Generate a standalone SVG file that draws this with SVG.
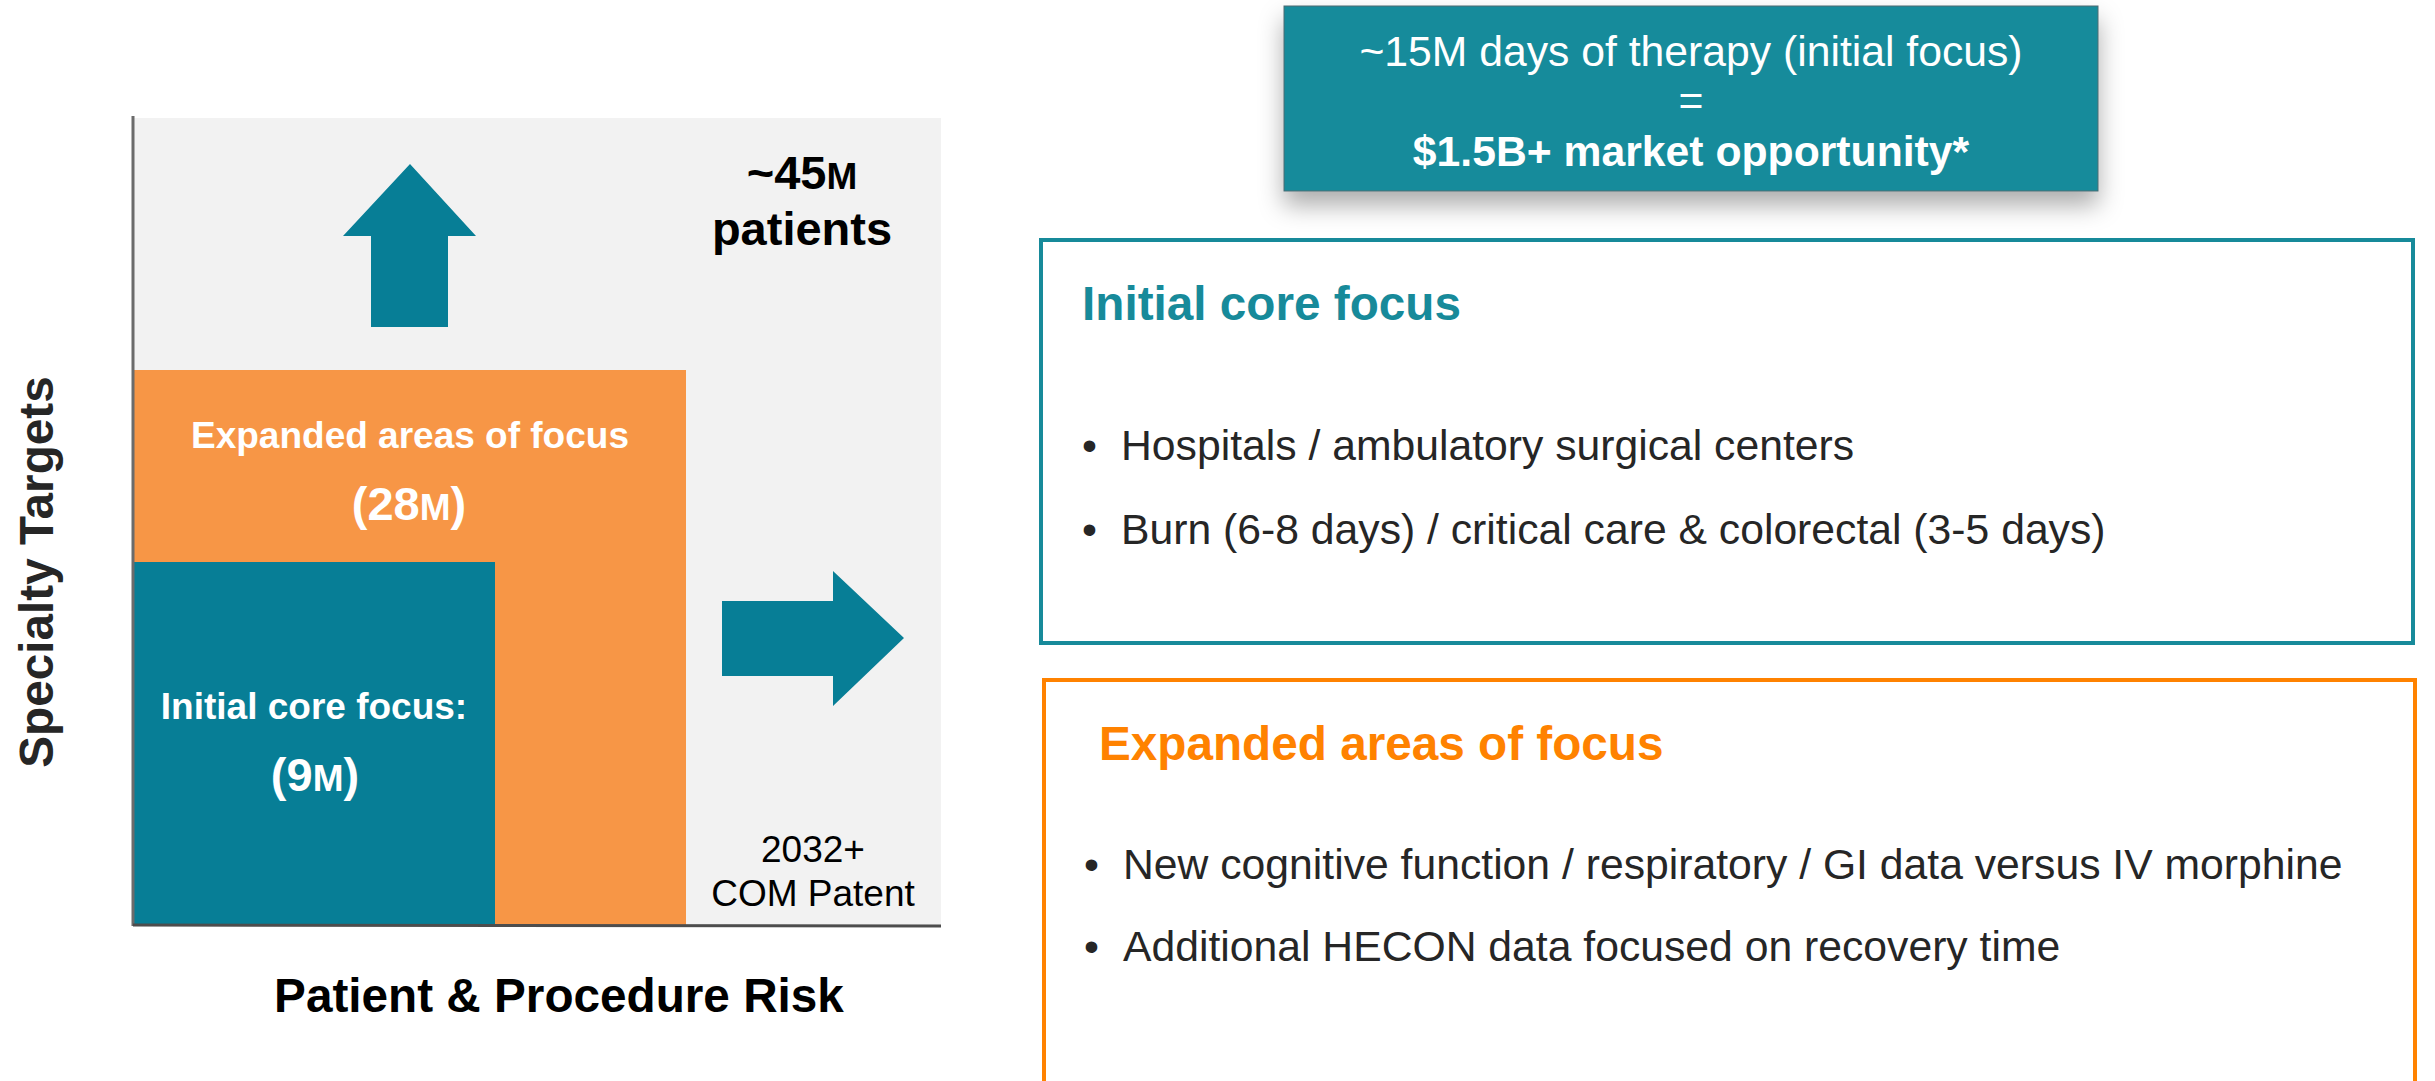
<svg xmlns="http://www.w3.org/2000/svg" width="2435" height="1081" viewBox="0 0 2435 1081">
  <style>
    text { font-family: "Liberation Sans", Arial, sans-serif; }
    .b { font-weight: bold; }
    .wlab { fill: #ffffff; font-weight: bold; font-size: 37px; text-anchor: middle; }
    .wnum { fill: #ffffff; font-weight: bold; font-size: 47px; text-anchor: middle; }
    .bul { fill: #262626; font-size: 42.7px; }
    .ttl { font-weight: bold; font-size: 47.7px; }
  </style>
  <defs>
    <filter id="shadow" x="-10%" y="-30%" width="120%" height="170%">
      <feDropShadow dx="0" dy="14" stdDeviation="12" flood-color="#000000" flood-opacity="0.32"/>
    </filter>
  </defs>
  <rect width="2435" height="1081" fill="#ffffff"/>

  <!-- Left chart -->
  <g id="chart-bg">
    <rect x="134" y="118" width="807" height="807" fill="#f2f2f2"/>
  </g>
  <g id="node-expanded">
    <rect x="134" y="370" width="552" height="555" fill="#f79646"/>
    <text class="wlab" x="410" y="448">Expanded areas of focus</text>
    <text class="wnum" x="409" y="520">(28<tspan font-size="37px">M</tspan>)</text>
  </g>
  <g id="node-initial">
    <rect x="134" y="562" width="361" height="363" fill="#077e96"/>
    <text class="wlab" x="314" y="719">Initial core focus:</text>
    <text class="wnum" x="315" y="791">(9<tspan font-size="37px">M</tspan>)</text>
  </g>
  <g id="node-total">
    <text class="b" x="802" y="189" font-size="47px" text-anchor="middle" fill="#000000">~45<tspan font-size="37px">M</tspan></text>
    <text class="b" x="802" y="245" font-size="47px" text-anchor="middle" fill="#000000">patients</text>
  </g>
  <g id="node-patent">
    <text x="813" y="862" font-size="37px" text-anchor="middle" fill="#000000">2032+</text>
    <text x="813" y="906" font-size="37px" text-anchor="middle" fill="#000000">COM Patent</text>
  </g>
  <g id="axes">
    <line x1="133" y1="116" x2="133" y2="926" stroke="#6b6b6b" stroke-width="3"/>
    <line x1="133" y1="925" x2="941" y2="926" stroke="#4d4d4d" stroke-width="3"/>
    <text class="b" transform="translate(53,572) rotate(-90)" font-size="47.7px" text-anchor="middle" fill="#262626">Specialty Targets</text>
    <text class="b" x="559" y="1012" font-size="47.7px" text-anchor="middle" fill="#000000">Patient &amp; Procedure Risk</text>
  </g>

  <!-- Block arrows -->
  <g id="connectors" fill="#077e96">
    <polygon points="410,164 476,236 448,236 448,327 371,327 371,236 343,236"/>
    <polygon points="904,638 833,571 833,601 722,601 722,676 833,676 833,706"/>
  </g>

  <!-- Top summary box -->
  <g id="node-market">
    <rect x="1284" y="6" width="814" height="185" fill="#168b9b" stroke="#4a6a70" stroke-width="1" filter="url(#shadow)"/>
    <text x="1691" y="66" font-size="42.7px" text-anchor="middle" fill="#ffffff">~15M days of therapy (initial focus)</text>
    <text x="1691" y="115" font-size="42.7px" text-anchor="middle" fill="#ffffff">=</text>
    <text class="b" x="1691" y="166" font-size="42.7px" text-anchor="middle" fill="#ffffff">$1.5B+ market opportunity*</text>
  </g>

  <!-- Initial core focus box -->
  <g id="node-initial-detail">
    <rect x="1041" y="240" width="1372" height="403" fill="#ffffff" stroke="#178a9a" stroke-width="4"/>
    <text class="ttl" x="1082" y="320" fill="#178a9a">Initial core focus</text>
    <text class="bul" x="1082" y="460">•</text>
    <text class="bul" x="1121" y="460">Hospitals / ambulatory surgical centers</text>
    <text class="bul" x="1082" y="544">•</text>
    <text class="bul" x="1121" y="544">Burn (6-8 days) / critical care &amp; colorectal (3-5 days)</text>
  </g>

  <!-- Expanded areas box -->
  <g id="node-expanded-detail">
    <rect x="1044" y="680" width="1371" height="440" fill="#ffffff" stroke="#ff8200" stroke-width="4"/>
    <text class="ttl" x="1099" y="760" fill="#ff8200">Expanded areas of focus</text>
    <text class="bul" x="1084" y="879">•</text>
    <text class="bul" x="1123" y="879">New cognitive function / respiratory / GI data versus IV morphine</text>
    <text class="bul" x="1084" y="961">•</text>
    <text class="bul" x="1123" y="961">Additional HECON data focused on recovery time</text>
  </g>
</svg>
